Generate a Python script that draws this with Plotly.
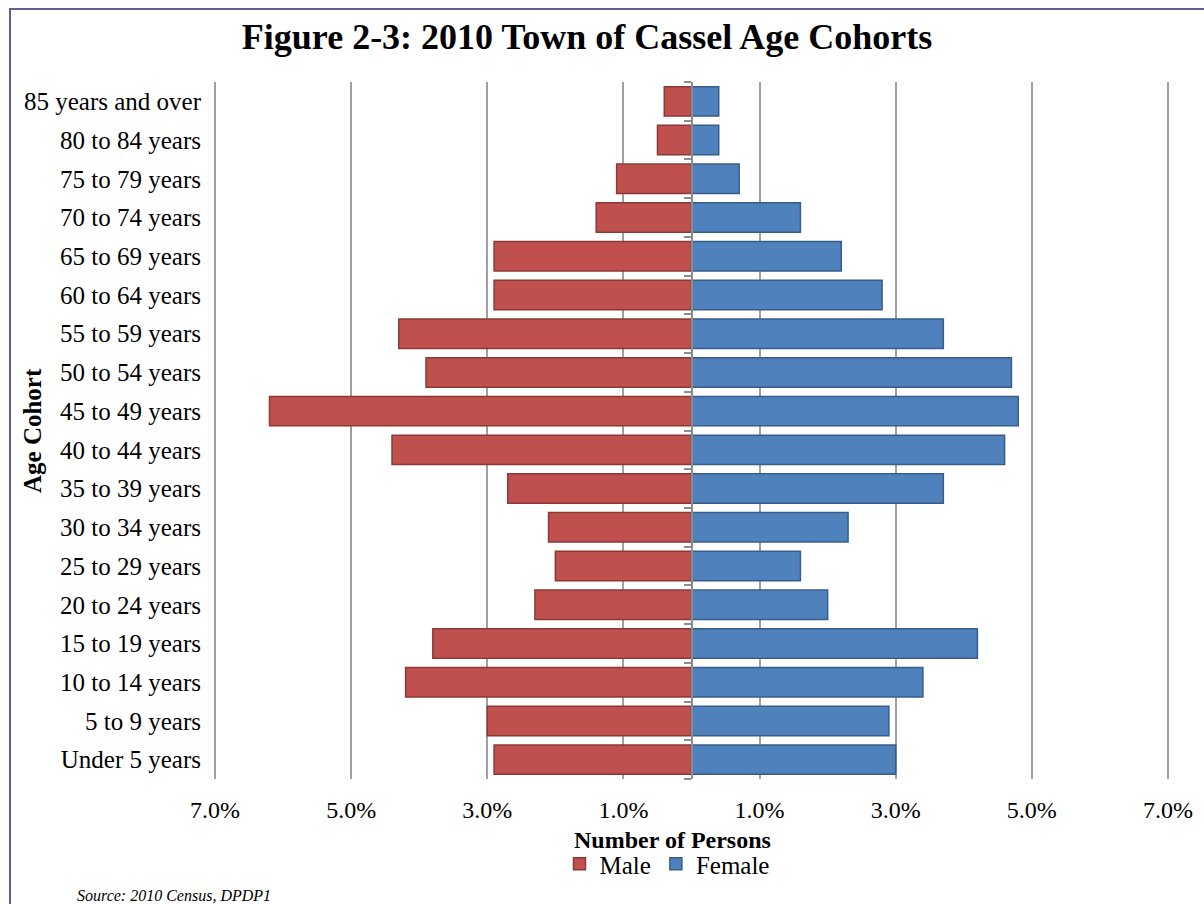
import plotly.graph_objects as go

# Age cohorts, youngest first (plotted bottom to top)
cohorts = [
    "Under 5 years", "5 to 9 years", "10 to 14 years", "15 to 19 years",
    "20 to 24 years", "25 to 29 years", "30 to 34 years", "35 to 39 years",
    "40 to 44 years", "45 to 49 years", "50 to 54 years", "55 to 59 years",
    "60 to 64 years", "65 to 69 years", "70 to 74 years", "75 to 79 years",
    "80 to 84 years", "85 years and over",
]

# Share of total population (%)
male_pct = [2.9, 3.0, 4.2, 3.8, 2.3, 2.0, 2.1, 2.7, 4.4, 6.2,
            3.9, 4.3, 2.9, 2.9, 1.4, 1.1, 0.5, 0.4]
female_pct = [3.0, 2.9, 3.4, 4.2, 2.0, 1.6, 2.3, 3.7, 4.6, 4.8,
              4.7, 3.7, 2.8, 2.2, 1.6, 0.7, 0.4, 0.4]

tick_vals = [-7, -5, -3, -1, 1, 3, 5, 7]
tick_text = ["7.0%", "5.0%", "3.0%", "1.0%", "1.0%", "3.0%", "5.0%", "7.0%"]

SERIF = "Liberation Serif, Times New Roman, serif"
W, H = 1204, 904
ML, MR, MT, MB = 214, 35, 82, 125
PW, PH = W - ML - MR, H - MT - MB


def px_x(x):
    return (x - ML) / PW


def px_y(y):
    return (H - MB - y) / PH


fig = go.Figure()
fig.add_trace(go.Bar(
    y=cohorts, x=[-v for v in male_pct], name="Male", orientation="h",
    marker=dict(color="#C0504D", line=dict(color="#8C3836", width=1.5)),
    yaxis="y",
))
fig.add_trace(go.Bar(
    y=cohorts, x=female_pct, name="Female", orientation="h",
    marker=dict(color="#4F81BD", line=dict(color="#385D8A", width=1.5)),
    yaxis="y2",
))

cat_range = [-0.5, len(cohorts) - 0.5]

fig.update_layout(
    width=W, height=H,
    margin=dict(l=ML, r=MR, t=MT, b=MB),
    paper_bgcolor="white", plot_bgcolor="white",
    font=dict(family=SERIF, color="#000000", size=25),
    barmode="overlay", bargap=0.24,
    title=dict(
        text="Figure 2-3: 2010 Town of Cassel Age Cohorts",
        font=dict(family=SERIF, size=36, weight="bold", color="#000000"),
        x=587 / W, xref="container", xanchor="center",
        y=1 - 36 / H, yref="container", yanchor="middle",
    ),
    xaxis=dict(
        range=[-7.015, 7.015], tickmode="array", tickvals=tick_vals, ticktext=tick_text,
        showgrid=True, gridcolor="#A0A0A0", gridwidth=2,
        zeroline=False, showline=False, ticks="",
        ticklabelstandoff=14,
        tickfont=dict(family=SERIF, size=24),
    ),
    yaxis=dict(
        type="category", categoryorder="array", categoryarray=cohorts,
        range=cat_range, showgrid=False, showline=False, ticks="",
        ticklabelstandoff=12,
        tickfont=dict(family=SERIF, size=25),
    ),
    yaxis2=dict(
        type="category", categoryorder="array", categoryarray=cohorts,
        range=cat_range, overlaying="y", anchor="free", position=0.5,
        side="left", showgrid=False, showticklabels=False,
        showline=True, linecolor="#8C8C8C", linewidth=2,
        ticks="outside", tickson="boundaries", ticklen=7,
        tickcolor="#8C8C8C", tickwidth=2,
    ),
    legend=dict(
        orientation="h", x=px_x(667), xanchor="center",
        y=px_y(864), yanchor="middle",
        font=dict(family=SERIF, size=25), itemwidth=30,
        bgcolor="rgba(0,0,0,0)",
    ),
    annotations=[
        dict(text="<b>Number of Persons</b>", xref="paper", yref="paper",
             x=px_x(672), y=px_y(840), xanchor="center", yanchor="middle",
             showarrow=False, font=dict(family=SERIF, size=24)),
        dict(text="<b>Age Cohort</b>", xref="paper", yref="paper",
             x=px_x(32), y=px_y(431), xanchor="center", yanchor="middle",
             textangle=-90, showarrow=False, font=dict(family=SERIF, size=25)),
        dict(text="<i>Source: 2010 Census, DPDP1</i>", xref="paper", yref="paper",
             x=px_x(75), y=px_y(895), xanchor="left", yanchor="middle",
             showarrow=False, font=dict(family=SERIF, size=16)),
    ],
    shapes=[
        dict(type="rect", xref="paper", yref="paper",
             x0=px_x(10), x1=px_x(W + 40), y0=px_y(H + 40), y1=px_y(9),
             line=dict(color="#6B5A8E", width=2), fillcolor="rgba(0,0,0,0)",
             layer="above"),
    ],
)

fig.write_html("out.html")
